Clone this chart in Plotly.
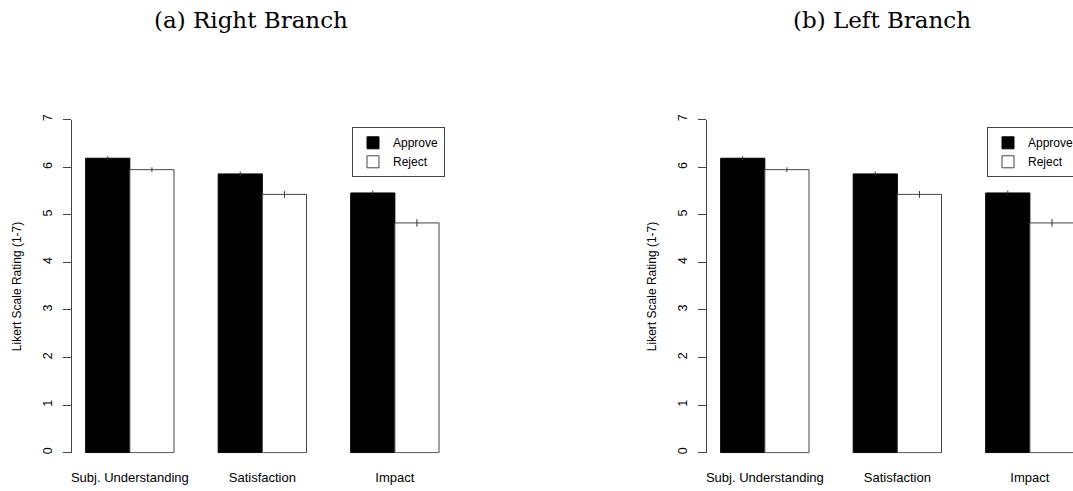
import plotly.graph_objects as go

# ---- data ----
categories = ["Subj. Understanding", "Satisfaction", "Impact"]
series_names = ["Approve", "Reject"]

right_approve = [6.19, 5.86, 5.46]
right_approve_err = [0.04, 0.05, 0.05]
right_reject = [5.95, 5.43, 4.83]
right_reject_err = [0.05, 0.07, 0.08]

left_approve = [6.19, 5.86, 5.46]
left_approve_err = [0.04, 0.05, 0.05]
left_reject = [5.95, 5.43, 4.83]
left_reject_err = [0.05, 0.07, 0.08]

y_ticks = [0, 1, 2, 3, 4, 5, 6, 7]
panel_titles = ["(a) Right Branch", "(b) Left Branch"]
y_title = "Likert Scale Rating (1-7)"

# ---- layout constants ----
W, H = 1073, 491
SANS = "Liberation Sans, Arial, sans-serif"
SERIF = "DejaVu Serif, Liberation Serif, serif"
AX = "#444444"

y_top_px, y_zero_px = 119.7, 452.7
unit = (y_zero_px - y_top_px) / 7.0
y_lo = -0.01
y_dom = [(H - (y_zero_px - y_lo * unit)) / H, (H - y_top_px) / H]

fig = go.Figure()


def add_panel(approve, approve_err, reject, reject_err, xa, ya, leg):
    fig.add_trace(go.Bar(
        x=categories, y=approve, name=series_names[0],
        marker=dict(color="black", line=dict(color="black", width=1)),
        error_y=dict(type="data", array=approve_err, visible=True,
                     color="#333333", thickness=1, width=0),
        xaxis=xa, yaxis=ya, legend=leg,
    ))
    fig.add_trace(go.Bar(
        x=categories, y=reject, name=series_names[1],
        marker=dict(color="white", line=dict(color=AX, width=1)),
        error_y=dict(type="data", array=reject_err, visible=True,
                     color="#333333", thickness=1, width=0),
        xaxis=xa, yaxis=ya, legend=leg,
    ))


add_panel(right_approve, right_approve_err, right_reject, right_reject_err,
          "x", "y", "legend")
add_panel(left_approve, left_approve_err, left_reject, left_reject_err,
          "x2", "y2", "legend2")

px_per_unit = 44.17  # pixels per bar width


def xrange_for(left_px, right_px, zero_px):
    # category centre c sits at bar position 2+3c; pixel = zero_px + pos*px_per_unit
    lo = ((left_px - zero_px) / px_per_unit - 2) / 3
    hi = ((right_px - zero_px) / px_per_unit - 2) / 3
    return [lo, hi]


zero_l = 41.5
zero_r = 41.5 + 635
xaxis_common = dict(showline=False, ticks="", showgrid=False, zeroline=False,
                    tickfont=dict(family=SANS, size=13, color="black"),
                    ticklabelstandoff=15, fixedrange=True)
yaxis_common = dict(range=[y_lo, 7], domain=y_dom, tickvals=y_ticks,
                    ticks="outside", ticklen=8, tickcolor=AX, tickwidth=1,
                    showline=True, linecolor=AX, linewidth=1,
                    showgrid=False, zeroline=False, tickangle=-90,
                    ticklabelstandoff=6,
                    tickfont=dict(family=SANS, size=12.5, color="black"),
                    title=dict(text=y_title, font=dict(family=SANS, size=12, color="black"),
                               standoff=16),
                    fixedrange=True)

legend_common = dict(y=(H - 127.3) / H, xanchor="left", yanchor="top",
                     bordercolor=AX, borderwidth=1, bgcolor="white",
                     font=dict(family=SANS, size=12, color="black"),
                     itemclick=False, itemdoubleclick=False, tracegroupgap=0)

fig.update_layout(
    width=W, height=H,
    margin=dict(l=0, r=0, t=0, b=0, autoexpand=False),
    paper_bgcolor="white", plot_bgcolor="rgba(0,0,0,0)",
    barmode="group", bargap=1/3, bargroupgap=0,
    xaxis=dict(domain=[71.5 / W, 453.2 / W], range=xrange_for(71.5, 453.2, zero_l),
               anchor="y", **xaxis_common),
    xaxis2=dict(domain=[706.5 / W, 1.0], range=xrange_for(706.5, 1073, zero_r),
                anchor="y2", **xaxis_common),
    yaxis=dict(anchor="x", **yaxis_common),
    yaxis2=dict(anchor="x2", **yaxis_common),
    legend=dict(x=352 / W, **legend_common),
    legend2=dict(x=987 / W, **legend_common),
    showlegend=True,
    annotations=[
        dict(text=panel_titles[0], x=250.7 / W, y=(H - 20) / H, xref="paper", yref="paper",
             showarrow=False, xanchor="center", yanchor="middle",
             font=dict(family=SERIF, size=23, color="black")),
        dict(text=panel_titles[1], x=882 / W, y=(H - 20) / H, xref="paper", yref="paper",
             showarrow=False, xanchor="center", yanchor="middle",
             font=dict(family=SERIF, size=23, color="black")),
    ],
)

fig.write_html("out.html", config={"displayModeBar": False})
